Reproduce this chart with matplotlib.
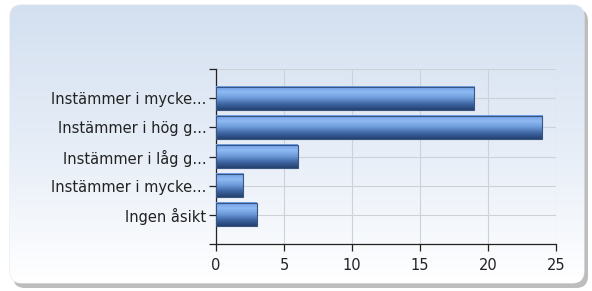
import numpy as np
import matplotlib.pyplot as plt
from matplotlib.patches import FancyBboxPatch
from matplotlib.colors import LinearSegmentedColormap

labels = ['Instämmer i mycke...', 'Instämmer i hög g...', 'Instämmer i låg g...',
          'Instämmer i mycke...', 'Ingen åsikt']
values = [19, 24, 6, 2, 3]

W, H = 592, 291
fig = plt.figure(figsize=(W / 100, H / 100), dpi=100)

# bakgrund: rundad ruta med skugga och gradient
bg = fig.add_axes([0, 0, 1, 1], zorder=-10)
bg.set_xlim(0, W)
bg.set_ylim(H, 0)
bg.axis('off')
shadow = FancyBboxPatch((13, 9), 575, 279, boxstyle='round,pad=0,rounding_size=12',
                        fc='#bdbdbd', ec='none', zorder=1)
bg.add_patch(shadow)
box = FancyBboxPatch((10, 5), 574, 278, boxstyle='round,pad=0,rounding_size=12',
                     fc='white', ec='#e4e8ee', lw=0.8, zorder=2)
bg.add_patch(box)
grad = np.linspace(0, 1, 256).reshape(-1, 1)
bgcmap = LinearSegmentedColormap.from_list('bg', ['#d4e0f0', '#e6edf7', '#ffffff'])
im = bg.imshow(grad, cmap=bgcmap, extent=(10, 584, 283, 5), aspect='auto', zorder=3)
im.set_clip_path(box)

ax = fig.add_axes([216 / W, 1 - 244 / H, 340 / W, 175 / H])
ax.patch.set_alpha(0)
pos = np.arange(1, len(values) + 1)
ax.set_xlim(0, 25)
ax.set_ylim(len(values) + 1, 0)

barcmap = LinearSegmentedColormap.from_list(
    'bar', ['#6c9ee6', '#8fbaf3', '#6d9ad8', '#3f66a3', '#24426f'])
h = 0.8
for y, v in zip(pos, values):
    g = np.linspace(0, 1, 64).reshape(-1, 1)
    ax.imshow(g, cmap=barcmap, extent=(0, v, y + h / 2, y - h / 2), aspect='auto', zorder=3)
    ax.barh(y, v, height=h, fc='none', ec='#3a5680', lw=0.8, zorder=4)

ax.set_xticks([0, 5, 10, 15, 20, 25])
ax.set_yticks(range(0, len(values) + 2))
ax.set_yticklabels([''] + labels + [''])
ax.grid(True, color='#cdd1d8', lw=0.8, zorder=0)
for s in ['top', 'right']:
    ax.spines[s].set_visible(False)
for s in ['left', 'bottom']:
    ax.spines[s].set_color('#222222')
    ax.spines[s].set_linewidth(0.9)
ax.tick_params(axis='both', colors='#222222', labelcolor='#222222', labelsize=10.5,
               length=5, width=0.9)
ax.tick_params(axis='y', pad=2)
ax.tick_params(axis='x', pad=5)
ax.set_axisbelow(True)

fig.savefig('out.png', dpi=100)
